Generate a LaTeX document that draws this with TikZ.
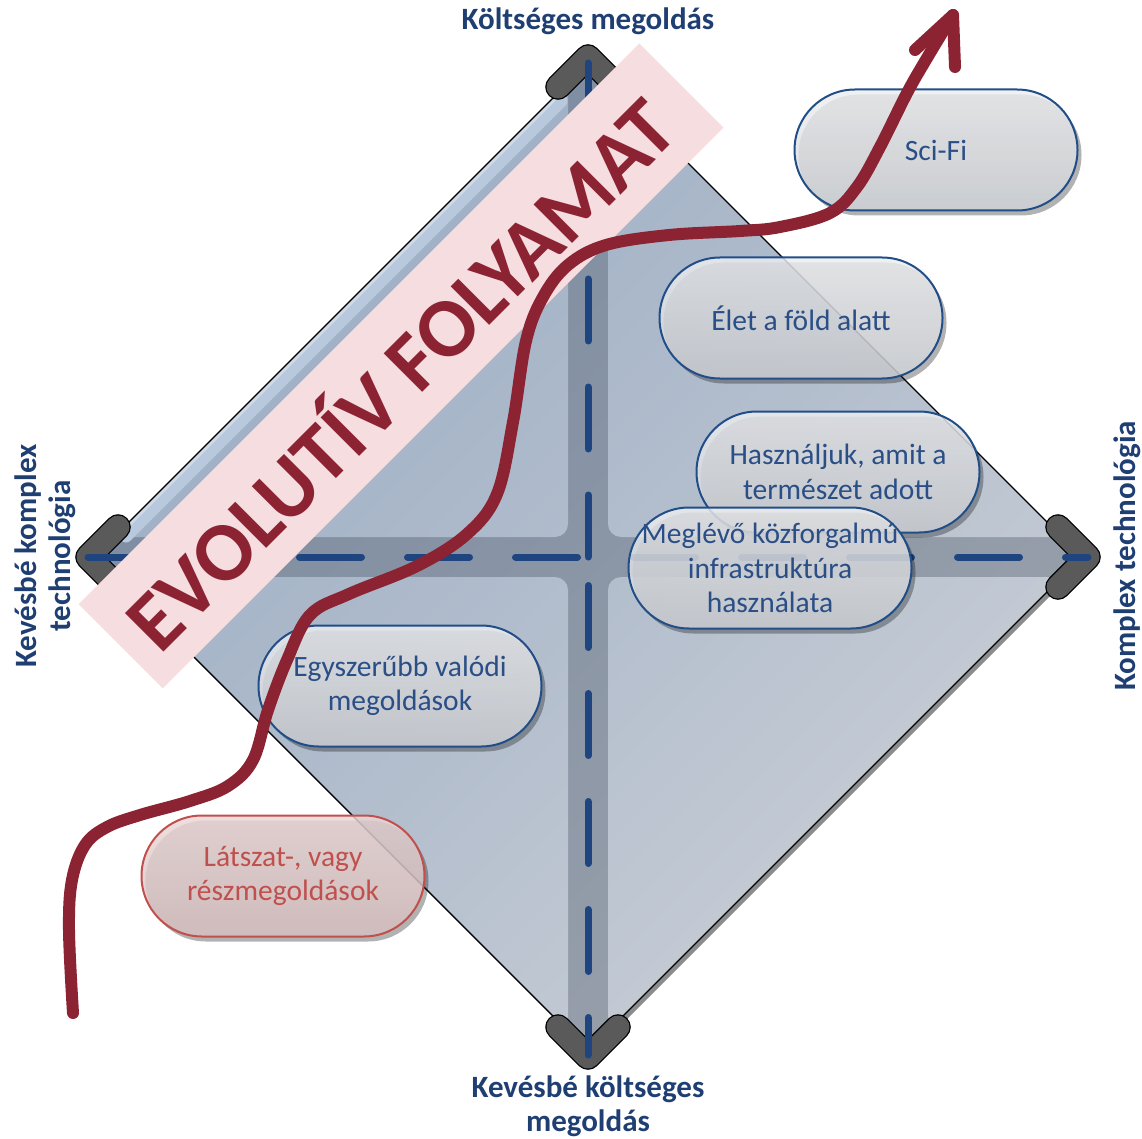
\documentclass[tikz,border=0pt]{standalone}
\usepackage{fontspec}
\setmainfont{Carlito}
\usetikzlibrary{shadows}
\definecolor{nodeblue}{HTML}{224E88}
\definecolor{txtblue}{HTML}{2A4E86}
\definecolor{lblblue}{HTML}{1F3F73}
\definecolor{evored}{HTML}{8B2332}
\definecolor{bannerpink}{HTML}{F6DDE0}
\definecolor{dashblue}{HTML}{1F4580}
\definecolor{redborder}{HTML}{C0504D}
\definecolor{redfillA}{HTML}{EBD6D6}
\definecolor{redfillB}{HTML}{D6BEBE}
\definecolor{pillA}{HTML}{EDEEF0}
\definecolor{pillB}{HTML}{D0D3D8}
\definecolor{tileA}{HTML}{9AACC3}
\definecolor{tileB}{HTML}{C9CED6}
\definecolor{stripA}{HTML}{7A8AA0}
\definecolor{stripB}{HTML}{9AA1AB}
\definecolor{bevelc}{HTML}{B8C8DD}
\definecolor{bracketc}{HTML}{5A5A5A}
\begin{document}
\begin{tikzpicture}[x=1pt,y=-1pt,
  pill/.style={rectangle, rounded corners=60.5pt, minimum width=283pt, minimum height=121pt, inner sep=0pt,
    draw=nodeblue, line width=2pt, top color=pillA, bottom color=pillB, fill opacity=.82,
    draw opacity=1, text opacity=1, text=txtblue, align=center,
    font=\fontsize{29.5}{34.5}\selectfont,
    drop shadow={shadow xshift=4pt, shadow yshift=-5pt, fill=black, opacity=.3}},
  redpill/.style={pill, draw=redborder, top color=redfillA, bottom color=redfillB, text=redborder},
  lbl/.style={text=lblblue, font=\fontsize{31}{34}\selectfont\bfseries, align=center, inner sep=0pt},
  dashline/.style={draw=dashblue, line width=7pt, line cap=round, dash pattern=on 62pt off 46pt},
  bracketline/.style={line width=23pt, line cap=round, line join=round},
  evo/.style={draw=evored, line width=12pt, line cap=round, line join=round},
]
\useasboundingbox (0,0) rectangle (1142,1139);

% diamond vertices
\coordinate (T) at (588,63);
\coordinate (R) at (1082,557);
\coordinate (B) at (588,1051);
\coordinate (L) at (94,557);
\coordinate (C) at (588,557);

% shadow of diamond
\fill[black!45] ([shift={(3,4)}]T) -- ([shift={(3,4)}]R) -- ([shift={(3,4)}]B) -- ([shift={(3,4)}]L) -- cycle;
% base (strips)
\shade[top color=stripA, bottom color=stripB, shading angle=45] (T) -- (R) -- (B) -- (L) -- cycle;
% tiles
\begin{scope}
\clip[rounded corners=13pt] (114,537) -- (568,83) -- (568,537) -- cycle
  (608,83) -- (1062,537) -- (608,537) -- cycle
  (114,577) -- (568,577) -- (568,1031) -- cycle
  (608,577) -- (1062,577) -- (608,1031) -- cycle;
\shade[top color=tileA, bottom color=tileB, shading angle=45] (94,63) rectangle (1082,1051);
\end{scope}
% bevel along upper-left edge
\draw[bevelc, line width=13pt, line cap=round] (126,536) -- (561,101);
\draw[white, opacity=.35, line width=3pt, line cap=round] (122,532) -- (557,97);
\draw[black, line width=1.3pt, line join=miter] (T) -- (R) -- (B) -- (L) -- cycle;

% brackets
\foreach \vx/\vy/\ax/\ay/\bx/\by in {588/57/558/87/618/87, 88/557/118/527/118/587, 1088/557/1058/527/1058/587, 588/1057/558/1027/618/1027}{
  \draw[bracketline, line width=25.6pt, black] (\ax,\ay) -- (\vx,\vy) -- (\bx,\by);
  \draw[bracketline, bracketc] (\ax,\ay) -- (\vx,\vy) -- (\bx,\by);
}

% dashed axes
\coordinate (Dtop) at (588,58);
\coordinate (Dbot) at (588,1055);
\coordinate (Dleft) at (88,557);
\coordinate (Dright) at (1088,557);
\draw[dashline, dash phase=0pt] (C) -- (Dtop);
\draw[dashline, dash phase=79.5pt] (C) -- (Dbot);
\draw[dashline, dash phase=97.5pt] (C) -- (Dleft);
\draw[dashline, dash phase=62.5pt] (C) -- (Dright);

% banner
\node[rotate=45, fill=bannerpink, minimum width=793pt, minimum height=119pt, inner sep=0pt] (banner) at (401,366) {};
\node[rotate=45, text=evored, inner sep=0pt, font=\fontsize{84}{84}\selectfont\bfseries] (evotext) at (396,370) {EVOLUTÍV FOLYAMAT};

% nodes
\node[pill] (scifi) at (936,150) {Sci-Fi};
\node[pill] (elet) at (801,318) {Élet a föld alatt};
\node[pill] (hasznal) at (838,472) {Használjuk, amit a\\természet adott};
\node[pill] (meglevo) at (770,568) {Meglévő közforgalmú\\infrastruktúra\\használata};
\node[pill] (egyszerubb) at (400,686) {Egyszerűbb valódi\\megoldások};
\node[redpill] (latszat) at (283,876) {Látszat-, vagy\\részmegoldások};

% evolution arrow
\coordinate (evoStart) at (73,1013);
\coordinate (evoTip) at (953,15);
\coordinate (evoArmL) at (915,50);
\coordinate (evoArmR) at (955,67);
\draw[evo] plot[smooth, tension=.6] coordinates {(evoStart) (69,930) (72,880) (85,845) (107,827) (140,815) (190,801) (228,786) (253,760) (268,710) (287,660) (310,615) (349,594) (417,566) (467,534) (497,494) (513,422) (526,341) (543,297) (568,265) (606,245) (669,235) (740,231) (780,227) (830,213) (857,187) (880,147) (907,93) (927,58) (evoTip)};
\draw[evo] (evoArmL) -- (evoTip) -- (evoArmR);

% axis labels
\node[lbl] (ltop) at (588,21) {Költséges megoldás};
\node[lbl] (lbottom) at (588,1106) {Kevésbé költséges\\megoldás};
\node[lbl, rotate=90] (lleft) at (45,556) {Kevésbé komplex\\technológia};
\node[lbl, rotate=90] (lright) at (1127,556) {Komplex technológia};
\end{tikzpicture}
\end{document}
